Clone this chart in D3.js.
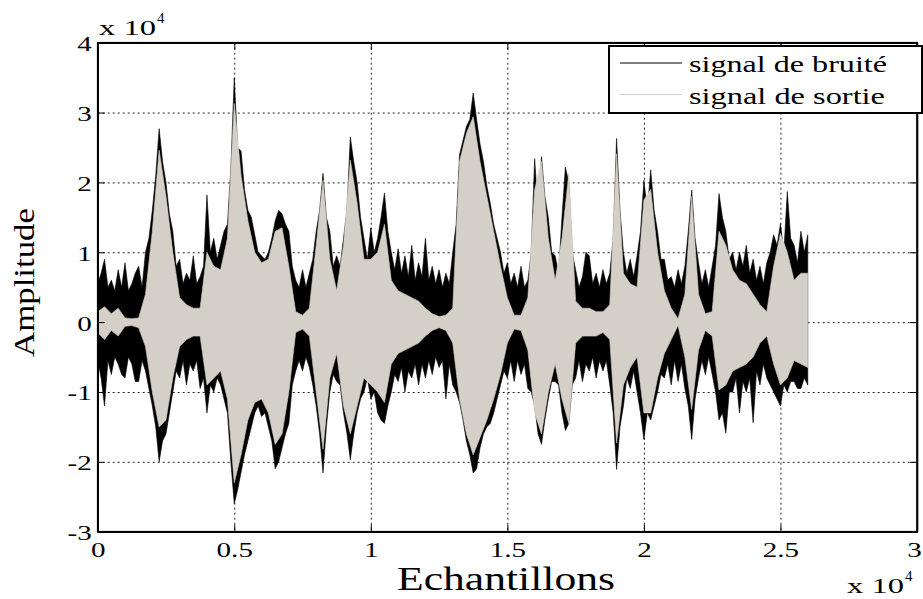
<!DOCTYPE html>
<html>
<head>
<meta charset="utf-8">
<script src="https://cdn.jsdelivr.net/npm/d3@7"></script>
<style>
  body { margin: 0; background: #fff; }
  text { font-family: "Liberation Serif", "Times New Roman", Times, serif; fill: #000; }
</style>
</head>
<body>
<script>
// amplitudes in units of 10^4

// noisy signal (black): envelope read every 125 samples, 0 .. 26000
var noisyStep = 125;
var noisyHi = [
  0.55, 0.7, 0.9, 0.5, 0.6, 0.45, 0.75, 0.5,
  0.85, 0.45, 0.55, 0.7, 0.8, 0.5, 1.0, 1.2,
  1.6, 2.1, 2.77, 2.3, 2.0, 1.55, 1.3, 0.8,
  0.9, 0.55, 0.7, 0.6, 0.95, 0.55, 0.65, 0.8,
  1.82, 1.0, 1.2, 0.9, 1.1, 1.3, 1.4, 2.2,
  3.5, 2.5, 2.45, 1.9, 1.6, 1.5, 1.25, 1.0,
  0.95, 0.9, 1.0, 1.2, 1.45, 1.6, 1.55, 1.4,
  1.3, 0.8, 0.6, 0.5, 0.75, 0.5, 0.7, 0.9,
  1.3, 1.6, 2.13, 1.5, 1.3, 0.8, 0.95, 0.8,
  1.2, 1.6, 2.65, 2.3, 2.0, 1.5, 1.2, 0.9,
  1.35, 1.0, 1.2, 1.5, 1.85, 1.3, 1.0, 0.75,
  1.05, 0.7, 0.95, 0.65, 1.1, 0.6, 0.85, 0.65,
  1.2, 0.6, 0.8, 0.55, 0.75, 0.5, 0.7, 0.55,
  1.0, 1.4, 2.4, 2.6, 2.8, 2.9, 3.28, 2.9,
  2.55, 2.3, 1.95, 1.7, 1.4, 1.2, 1.0, 0.7,
  0.85, 0.55, 0.7, 0.5, 0.8, 0.5, 0.6, 1.0,
  2.34, 1.6, 2.37, 1.8, 1.5, 1.0, 0.95, 0.7,
  1.5, 2.22, 2.0, 1.0, 0.75, 0.5, 0.65, 1.0,
  0.95, 0.55, 0.7, 0.5, 0.75, 0.55, 0.7, 1.2,
  2.63, 1.6, 1.0, 0.7, 0.9, 0.65, 0.95, 1.3,
  2.03, 1.6, 2.18, 1.6, 1.3, 0.9, 0.9, 0.6,
  0.65, 0.5, 0.75, 0.55, 0.8, 1.3, 1.89, 1.2,
  0.85, 0.55, 0.75, 0.5, 0.8, 1.1, 1.84, 1.5,
  1.3, 0.9, 1.0, 0.75, 1.0, 0.8, 1.1, 0.7,
  0.9, 0.6, 0.8, 0.55, 0.85, 1.0, 1.25, 1.1,
  1.41, 1.0, 1.87, 1.2, 1.1, 0.85, 1.3, 1.0,
  1.25];
var noisyLo = [
  -0.55, -0.8, -1.2, -0.55, -0.75, -0.5, -0.6, -0.75,
  -0.8, -0.5, -0.6, -0.85, -0.85, -0.55, -0.7, -0.95,
  -1.2, -1.5, -2.0, -1.7, -1.6, -1.3, -1.0, -0.7,
  -0.8, -0.55, -0.9, -0.6, -0.7, -0.55, -0.95, -0.8,
  -1.3, -0.9, -1.0, -0.8, -0.9, -1.1, -1.3, -2.0,
  -2.6, -2.4, -2.15, -1.9, -1.7, -1.5, -1.3, -1.2,
  -1.35, -1.3, -1.5, -1.7, -2.1, -2.0, -1.8, -1.6,
  -1.45, -0.9, -0.7, -0.55, -0.7, -0.5, -0.65, -0.9,
  -1.2, -1.6, -2.16, -1.5, -1.0, -0.75, -0.85, -0.9,
  -1.3, -1.59, -1.97, -1.6, -1.3, -1.1, -1.0, -0.8,
  -1.1, -1.0, -1.3, -1.4, -1.45, -1.2, -1.0, -0.75,
  -0.85, -0.65, -1.0, -0.7, -0.8, -0.6, -0.9, -0.6,
  -0.8, -0.55, -0.75, -0.5, -0.65, -0.55, -1.1, -0.6,
  -0.9, -1.0, -1.15, -1.4, -1.7, -1.9, -2.16, -2.1,
  -1.8, -1.6, -1.5, -1.45, -1.3, -1.1, -0.9, -0.7,
  -0.8, -0.55, -0.85, -0.55, -0.75, -0.6, -0.95, -1.0,
  -1.2, -1.6, -1.75, -1.4, -1.1, -0.85, -0.85, -0.9,
  -1.3, -1.55, -1.45, -0.9, -0.8, -0.55, -0.85, -0.6,
  -0.7, -0.5, -0.8, -0.55, -0.7, -0.55, -0.9, -1.3,
  -2.11, -1.5, -1.2, -0.8, -0.95, -0.7, -1.0, -1.3,
  -1.68, -1.3, -1.4, -1.2, -1.0, -0.75, -0.8, -0.6,
  -0.9, -0.55, -0.85, -0.6, -0.95, -1.2, -1.68, -1.1,
  -0.8, -0.55, -0.75, -0.5, -0.75, -1.0, -1.4, -1.3,
  -1.59, -1.0, -1.0, -0.8, -1.3, -0.85, -1.0, -0.8,
  -1.44, -0.7, -0.9, -0.6, -0.8, -0.9, -1.0, -1.1,
  -1.2, -0.9, -1.0, -0.85, -0.85, -0.95, -0.95, -0.8,
  -0.9];

// output signal (light grey): envelope read every 250 samples, 0 .. 26000
var outStep = 250;
var outHi = [0.15, 0.22, 0.12, 0.2, 0.06, 0.05, 0.06, 0.4, 1.3, 2.46, 1.8, 1.0, 0.35, 0.25, 0.2, 0.2,
  1.0, 0.8, 0.75, 1.2, 3.13, 2.1, 1.45, 1.0, 0.85, 0.9, 1.3, 1.35, 0.8, 0.15, 0.1, 0.2,
  1.1, 2.03, 0.9, 0.45, 1.1, 2.32, 1.7, 0.9, 0.9, 1.0, 1.4, 0.6, 0.45, 0.4, 0.35, 0.3,
  0.2, 0.12, 0.08, 0.1, 0.2, 2.3, 2.7, 2.94, 2.3, 1.8, 1.3, 0.8, 0.35, 0.1, 0.1, 0.35,
  1.9, 2.3, 1.2, 0.6, 1.2, 2.13, 0.3, 0.2, 0.2, 0.15, 0.15, 0.25, 2.41, 0.7, 0.55, 0.5,
  1.75, 1.9, 1.0, 0.45, 0.2, 0.05, 0.4, 1.8, 0.4, 0.12, 0.15, 1.3, 1.1, 0.75, 0.6, 0.55,
  0.4, 0.25, 0.15, 0.8, 1.27, 1.0, 0.6, 0.7, 0.7];
var outLo = [-0.15, -0.25, -0.12, -0.2, -0.06, -0.05, -0.08, -0.35, -1.0, -1.5, -1.4, -0.8, -0.35, -0.25, -0.2, -0.2,
  -0.9, -0.8, -0.7, -1.1, -2.3, -1.9, -1.4, -1.15, -1.1, -1.3, -1.75, -1.6, -1.0, -0.15, -0.1, -0.2,
  -1.0, -1.82, -0.8, -0.45, -1.2, -1.6, -1.2, -0.8, -0.9, -1.0, -1.15, -0.6, -0.45, -0.4, -0.35, -0.3,
  -0.2, -0.12, -0.08, -0.12, -0.3, -1.1, -1.6, -1.9, -1.65, -1.4, -1.1, -0.75, -0.3, -0.1, -0.12, -0.4,
  -1.3, -1.6, -1.0, -0.6, -1.1, -1.45, -0.3, -0.2, -0.2, -0.2, -0.15, -0.25, -1.73, -0.9, -0.65, -0.5,
  -1.3, -1.3, -0.8, -0.45, -0.25, -0.05, -0.5, -1.25, -0.4, -0.12, -0.2, -0.97, -0.9, -0.7, -0.65, -0.6,
  -0.5, -0.3, -0.2, -0.6, -0.9, -0.8, -0.55, -0.6, -0.65];

var xTicks = [0, 5000, 10000, 15000, 20000, 25000, 30000];
var yTicks = [-3, -2, -1, 0, 1, 2, 3, 4];
var legendLabels = ["signal de bruité", "signal de sortie"];
var colors = {noisy: "#000000", out: "#d4d0c8"};

var margin = {top: 42.7, right: 6, bottom: 67.3, left: 97.7};
var W = 923, H = 599;
var width = W - margin.left - margin.right;
var height = H - margin.top - margin.bottom;
var stretch = 1.32; // text in the figure is stretched sideways

var x = d3.scaleLinear().domain([0, 30000]).range([0, width]);
var y = d3.scaleLinear().domain([-3, 4]).range([height, 0]);

var svg = d3.select("body").append("svg")
  .attr("width", W)
  .attr("height", H);

var g = svg.append("g")
  .attr("transform", "translate(" + margin.left + "," + margin.top + ")");

// grid, dotted
var grid = g.append("g").attr("class", "grid")
  .attr("stroke", "#222").attr("stroke-width", 1).attr("stroke-dasharray", "2,3");
grid.selectAll(".gx").data(xTicks.slice(1, -1)).enter().append("line")
  .attr("x1", d => x(d) + 0.5).attr("x2", d => x(d) + 0.5)
  .attr("y1", 0).attr("y2", height);
grid.selectAll(".gy").data(yTicks.slice(1, -1)).enter().append("line")
  .attr("x1", 0).attr("x2", width)
  .attr("y1", d => y(d) + 0.5).attr("y2", d => y(d) + 0.5);

// signals
function series(hi, lo, step) {
  return hi.map(function(v, i) { return {s: i * step, hi: v, lo: lo[i]}; });
}
var area = d3.area()
  .x(d => x(d.s))
  .y0(d => y(d.lo))
  .y1(d => y(d.hi));

g.append("path")
  .datum(series(noisyHi, noisyLo, noisyStep))
  .attr("fill", colors.noisy)
  .attr("stroke", colors.noisy)
  .attr("stroke-width", 0.6)
  .attr("d", area);

g.append("path")
  .datum(series(outHi, outLo, outStep))
  .attr("fill", colors.out)
  .attr("stroke", colors.out)
  .attr("stroke-width", 0.6)
  .attr("d", area);

// axes, ticks inward on all four sides
var fmtX = d => String(d / 10000);
var xBottom = g.append("g")
  .attr("transform", "translate(0," + height + ")")
  .call(d3.axisBottom(x).tickValues(xTicks).tickSizeInner(-7).tickSizeOuter(0).tickFormat(fmtX));
g.append("g")
  .call(d3.axisTop(x).tickValues(xTicks).tickSizeInner(-7).tickSizeOuter(0).tickFormat(""));
var yLeft = g.append("g")
  .call(d3.axisLeft(y).tickValues(yTicks).tickSizeInner(-7).tickSizeOuter(0).tickFormat(d => String(d)));
g.append("g")
  .attr("transform", "translate(" + width + ",0)")
  .call(d3.axisRight(y).tickValues(yTicks).tickSizeInner(-7).tickSizeOuter(0).tickFormat(""));

g.selectAll(".domain").attr("stroke", "#000").attr("stroke-width", 1.6);
g.selectAll(".tick line").attr("stroke", "#000").attr("stroke-width", 1);

// last label sits right at the page edge, pull it in a little
xBottom.selectAll("text")
  .attr("y", 0).attr("dy", 0)
  .attr("transform", (d, i) => "translate(" + (d === 30000 ? -3 : 0) + ",25) scale(" + stretch + ",1)")
  .style("font-size", "22px");
yLeft.selectAll("text")
  .attr("x", 0).attr("dy", 0)
  .attr("text-anchor", "end")
  .attr("transform", "translate(-6,8) scale(" + stretch + ",1)")
  .style("font-size", "22px");
g.selectAll(".tick text")
  .style("font-family", "'Liberation Serif', 'Times New Roman', Times, serif")
  .attr("fill", "#000");

// box outline drawn last
g.append("rect")
  .attr("width", width).attr("height", height)
  .attr("fill", "none").attr("stroke", "#000").attr("stroke-width", 1.6);

// exponent labels
function exponent(px, py, len) {
  svg.append("text").attr("x", px).attr("y", py).style("font-size", "21px")
    .attr("textLength", len).attr("lengthAdjust", "spacingAndGlyphs")
    .text("x 10");
  svg.append("text").attr("x", px + len + 1).attr("y", py - 12).style("font-size", "15px").text("4");
}
exponent(99, 35, 57);
exponent(847, 593, 57);

// axis titles
svg.append("text")
  .attr("x", 397).attr("y", 590)
  .attr("textLength", 218).attr("lengthAdjust", "spacingAndGlyphs")
  .style("font-size", "33px")
  .text("Echantillons");

svg.append("text")
  .attr("transform", "translate(34,357) rotate(-90)")
  .attr("textLength", 149).attr("lengthAdjust", "spacingAndGlyphs")
  .style("font-size", "30px")
  .text("Amplitude");

// legend
var legend = svg.append("g").attr("transform", "translate(609,46)");
legend.append("rect")
  .attr("width", 313).attr("height", 67)
  .attr("fill", "#fff").attr("stroke", "#000").attr("stroke-width", 2);
var items = legend.selectAll(".item").data(legendLabels).enter().append("g")
  .attr("transform", (d, i) => "translate(0," + (17 + i * 31.5) + ")");
items.append("line")
  .attr("x1", 11).attr("x2", 73)
  .attr("stroke", (d, i) => i === 0 ? colors.noisy : colors.out)
  .attr("stroke-width", 1.2);
items.append("text")
  .attr("x", 80).attr("y", 9)
  .attr("textLength", (d, i) => i === 0 ? 198 : 196).attr("lengthAdjust", "spacingAndGlyphs")
  .style("font-size", "24px")
  .text(d => d);
</script>
</body>
</html>
